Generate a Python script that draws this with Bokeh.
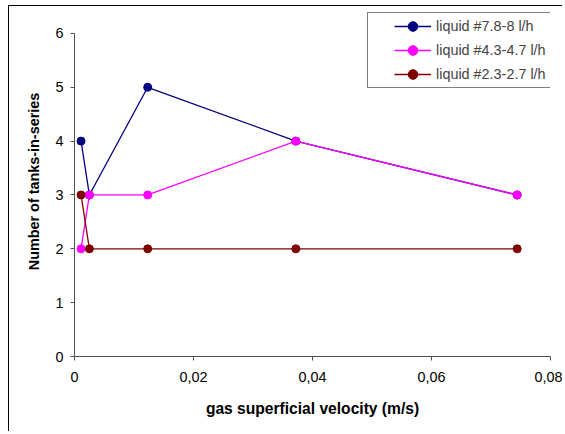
from bokeh.plotting import figure
from bokeh.models import FixedTicker, Legend, LegendItem, Range1d
from bokeh.embed import file_html
from bokeh.resources import INLINE

# ---- data ----
gas_velocity = [0.0011, 0.0025, 0.0123, 0.0372, 0.0744]
tanks_7_8 = [4, 3, 5, 4, 3]
tanks_4_3 = [2, 3, 3, 4, 3]
tanks_2_3 = [3, 2, 2, 2, 2]
series_names = ["liquid #7.8-8 l/h", "liquid #4.3-4.7 l/h", "liquid #2.3-2.7 l/h"]
series_colors = ["#000080", "#FF00FF", "#800000"]
x_ticks = [0, 0.02, 0.04, 0.06, 0.08]
x_tick_labels = ["0", "0,02", "0,04", "0,06", "0,08"]
y_ticks = [0, 1, 2, 3, 4, 5, 6]

FONT = "Liberation Sans"

# frame spans from the canvas top; the y axis itself is bounded to 0..6
p = figure(width=554, height=426, output_backend="svg", toolbar_location=None,
           x_range=Range1d(0, 0.08), y_range=Range1d(0, 6.5),
           min_border_left=65, min_border_right=13, min_border_top=0, min_border_bottom=76)
p.margin = (5, 0, 0, 8)
p.styles = {"border-left": "1px solid #000000", "border-top": "1px solid #000000"}
p.outline_line_color = None
p.xgrid.visible = False
p.ygrid.visible = False
p.background_fill_color = "white"
p.border_fill_color = "white"

items = []
for ys, name, col in zip([tanks_7_8, tanks_4_3, tanks_2_3], series_names, series_colors):
    ln = p.line(gas_velocity, ys, line_color=col, line_width=1.3)
    sc = p.scatter(gas_velocity, ys, marker="circle", size=8, fill_color=col, line_color=col)
    items.append(LegendItem(label=name, renderers=[ln, sc]))

# axes
for ax in (p.xaxis[0], p.yaxis[0]):
    ax.axis_line_color = "#505050"
    ax.major_tick_line_color = "#505050"
    ax.major_tick_in = 0
    ax.major_tick_out = 4
    ax.minor_tick_line_color = None
    ax.major_label_text_font = FONT
    ax.major_label_text_font_size = "14.4px"
    ax.major_label_text_color = "black"
    ax.axis_label_text_font = FONT
    ax.axis_label_text_font_style = "bold"
    ax.axis_label_text_color = "black"

p.xaxis.ticker = FixedTicker(ticks=x_ticks)
p.xaxis.major_label_overrides = {t: lab for t, lab in zip(x_ticks, x_tick_labels)}
p.xaxis.major_label_standoff = 11
p.xaxis.axis_label = "gas superficial velocity (m/s)"
p.xaxis.axis_label_text_font_size = "15.6px"
p.xaxis.axis_label_standoff = 15

p.yaxis.ticker = FixedTicker(ticks=y_ticks)
p.yaxis.bounds = (0, 6)
p.yaxis.major_label_standoff = 7
p.yaxis.axis_label = "Number of tanks-in-series"
p.yaxis.axis_label_text_font_size = "14.4px"
p.yaxis.axis_label_standoff = 10

legend = Legend(items=items, location=(293, 268), title=" ", title_location="left",
                title_text_font_size="10px", title_standoff=14,
                label_text_font=FONT, label_text_font_size="14.4px",
                glyph_width=37, glyph_height=24, label_height=24, label_width=260,
                label_standoff=5, spacing=0, padding=1, margin=0,
                border_line_color="black", border_line_width=1,
                background_fill_color="white", background_fill_alpha=1.0)
p.add_layout(legend, "center")

open("out.html", "w").write(file_html(p, INLINE))
